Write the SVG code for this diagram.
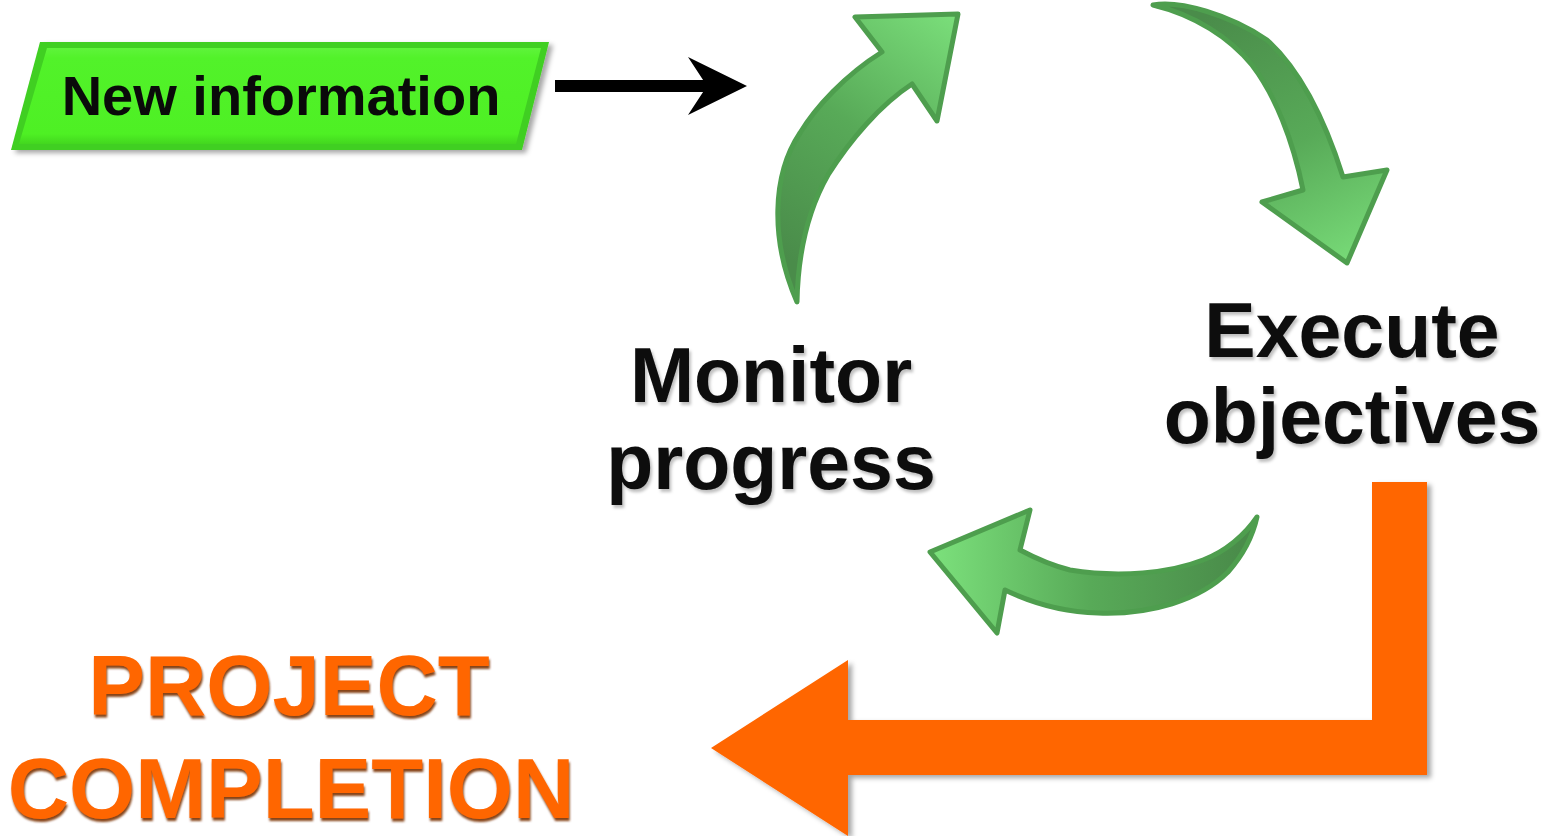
<svg xmlns="http://www.w3.org/2000/svg" width="1555" height="836" viewBox="0 0 1555 836">
  <style>
    .lbl { font-family: "Liberation Sans", Arial, sans-serif; font-weight: bold; text-anchor: middle; }
    .dark { fill: #0a0a0a; }
    .orange { fill: #ff6600; }
    .garrow { stroke: #4e9e4e; stroke-width: 5; stroke-linejoin: round; }
  </style>
  <defs>
    <filter id="txtShadow" x="-10%" y="-20%" width="130%" height="150%">
      <feDropShadow dx="2" dy="3" stdDeviation="1.5" flood-color="#000" flood-opacity="0.25"/>
    </filter>
    <filter id="orangeShadow" x="-10%" y="-20%" width="130%" height="150%">
      <feDropShadow dx="1" dy="3" stdDeviation="1" flood-color="#7a3000" flood-opacity="0.9"/>
    </filter>
    <filter id="boxShadow" x="-5%" y="-5%" width="115%" height="115%">
      <feDropShadow dx="4" dy="3" stdDeviation="2.5" flood-color="#000" flood-opacity="0.35"/>
    </filter>
    <linearGradient id="gUp" x1="790" y1="260" x2="960" y2="20" gradientUnits="userSpaceOnUse">
      <stop offset="0" stop-color="#4a8c4a"/>
      <stop offset="0.5" stop-color="#58aa58"/>
      <stop offset="1" stop-color="#7ade7a"/>
    </linearGradient>
    <linearGradient id="gDown" x1="1220" y1="10" x2="1340" y2="260" gradientUnits="userSpaceOnUse">
      <stop offset="0" stop-color="#4a8c4a"/>
      <stop offset="0.55" stop-color="#58aa58"/>
      <stop offset="1" stop-color="#76d876"/>
    </linearGradient>
    <linearGradient id="gLeft" x1="940" y1="560" x2="1240" y2="560" gradientUnits="userSpaceOnUse">
      <stop offset="0" stop-color="#7ade7a"/>
      <stop offset="0.5" stop-color="#58aa58"/>
      <stop offset="1" stop-color="#4a8c4a"/>
    </linearGradient>
    <linearGradient id="boxFill" x1="0" y1="42" x2="0" y2="150" gradientUnits="userSpaceOnUse">
      <stop offset="0" stop-color="#66f544"/>
      <stop offset="0.15" stop-color="#52f22a"/>
      <stop offset="0.85" stop-color="#4ef024"/>
      <stop offset="1" stop-color="#3cc81c"/>
    </linearGradient>
  </defs>

  <!-- "New information" input box -->
  <g id="new-information">
    <polygon points="40,42 549,42 522,150 11,150" fill="#3fcf20" filter="url(#boxShadow)"/>
    <polygon points="47,48 541,48 516,144 19,144" fill="url(#boxFill)"/>
    <text class="lbl dark" x="281" y="115" font-size="56">New information</text>
  </g>

  <!-- cycle labels -->
  <g id="monitor-progress" filter="url(#txtShadow)">
    <text class="lbl dark" x="771" y="402" font-size="77">Monitor</text>
    <text class="lbl dark" x="771" y="489" font-size="77">progress</text>
  </g>
  <g id="execute-objectives" filter="url(#txtShadow)">
    <text class="lbl dark" x="1352" y="357" font-size="77">Execute</text>
    <text class="lbl dark" x="1352" y="443" font-size="77">objectives</text>
  </g>

  <!-- outcome label -->
  <g id="project-completion" filter="url(#orangeShadow)">
    <text class="lbl orange" x="289" y="715" font-size="85">PROJECT</text>
    <text class="lbl orange" x="291" y="818" font-size="85">COMPLETION</text>
  </g>

  <g id="connectors">
    <!-- input arrow into the cycle -->
    <rect x="555" y="80" width="155" height="12" fill="#000"/>
    <polygon points="688,57 747,86 688,115 707,86" fill="#000"/>

    <!-- cycle arrow: monitor -> execute (rising) -->
    <path class="garrow" fill="url(#gUp)"
          d="M797,302 C770,240 772,175 800,133 C815,108 845,75 882,52
             L855,17 L958,14 L937,121 L912,84
             C880,105 850,140 828,175 C808,210 798,250 797,302 Z"/>

    <!-- cycle arrow: execute (falling) -->
    <path class="garrow" fill="url(#gDown)"
          d="M1153,5 C1180,0 1230,15 1267,40 C1300,70 1325,120 1343,177
             L1387,170 L1347,263 L1262,202 L1303,190
             C1293,140 1275,95 1252,65 C1230,38 1195,15 1153,5 Z"/>

    <!-- cycle arrow: back to monitor (returning) -->
    <path class="garrow" fill="url(#gLeft)"
          d="M1257,517 C1245,535 1225,552 1203,560 C1170,573 1120,578 1070,570 C1050,565 1035,558 1020,550
             L1030,510 L930,552 L997,633 L1005,590
             C1030,602 1060,612 1098,613 C1150,615 1200,600 1228,572 C1244,554 1253,535 1257,517 Z"/>

    <!-- exit arrow to project completion -->
    <path fill="#ff6600" filter="url(#boxShadow)"
          d="M1372,482 L1427,482 L1427,775 L848,775 L848,836 L711,748 L848,660 L848,720 L1372,720 Z"/>
  </g>
</svg>
